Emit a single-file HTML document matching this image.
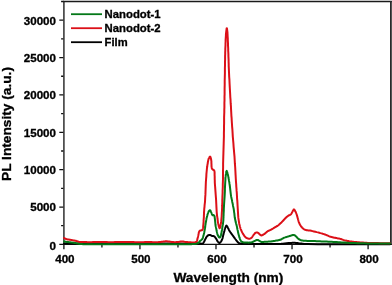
<!DOCTYPE html>
<html><head><meta charset="utf-8"><style>
html,body{margin:0;padding:0;background:#fff;}
body{width:392px;height:285px;overflow:hidden;}
svg{display:block;}
text{font-family:"Liberation Sans",Arial,sans-serif;font-weight:bold;fill:#000;stroke:#000;stroke-width:0.3px;}
</style></head><body>
<svg width="392" height="285" viewBox="0 0 392 285">
<path d="M59.3 244.40H63.9M61.1 225.72H63.9M59.3 207.03H63.9M61.1 188.35H63.9M59.3 169.66H63.9M61.1 150.98H63.9M59.3 132.29H63.9M61.1 113.61H63.9M59.3 94.92H63.9M61.1 76.24H63.9M59.3 57.55H63.9M61.1 38.87H63.9M59.3 20.18H63.9M61.1 1.50H63.9M63.90 244.4V249.2M101.92 244.4V247.4M139.95 244.4V249.2M177.97 244.4V247.4M215.99 244.4V249.2M254.02 244.4V247.4M292.04 244.4V249.2M330.06 244.4V247.4M368.09 244.4V249.2" stroke="#111" stroke-width="1.3" fill="none"/>
<path d="M63.90 0.90V244.40" stroke="#3c3c3c" stroke-width="1.6" fill="none"/>
<path d="M63.20 1.50H391.90" stroke="#1a1a1a" stroke-width="1.3" fill="none"/>
<path d="M390.90 0.90V245.00" stroke="#2a2a2a" stroke-width="1.8" fill="none"/>
<path d="M63.20 244.40H391.80" stroke="#111" stroke-width="1.4" fill="none"/>
<g fill="none" stroke-width="2.0" stroke-linejoin="round" stroke-linecap="round">
<polyline stroke="#000" points="64.0,243.6 65.8,243.6 70.4,243.6 77.1,243.6 84.9,243.6 92.8,243.6 100.0,243.6 107.9,243.6 116.1,243.6 124.5,243.6 133.0,243.6 141.6,243.6 150.0,243.6 159.1,243.6 169.0,243.6 178.9,243.6 187.9,243.7 195.3,243.6 200.0,243.6 200.7,243.6 201.2,243.6 201.6,243.7 202.0,243.7 202.4,243.6 202.7,243.5 203.0,243.3 203.2,243.1 203.4,242.8 203.6,242.4 203.8,242.1 204.0,241.8 204.2,241.5 204.4,241.1 204.6,240.7 204.7,240.4 204.9,240.0 205.1,239.6 205.3,239.2 205.5,238.7 205.8,238.3 206.0,237.8 206.2,237.4 206.5,237.0 206.8,236.6 207.1,236.3 207.4,236.0 207.7,235.7 208.0,235.4 208.3,235.2 208.6,235.1 208.9,235.0 209.1,234.9 209.4,234.9 209.7,234.9 210.0,234.9 210.3,235.0 210.6,235.2 211.0,235.4 211.3,235.6 211.6,235.8 211.9,235.9 212.2,236.0 212.5,236.0 212.7,236.0 213.0,236.0 213.3,236.0 213.5,236.1 213.7,236.2 213.9,236.2 214.1,236.3 214.2,236.4 214.4,236.6 214.6,236.7 214.8,236.9 215.1,237.2 215.3,237.5 215.5,237.9 215.8,238.2 216.0,238.6 216.3,239.1 216.6,239.6 216.9,240.1 217.2,240.7 217.5,241.2 217.8,241.6 218.1,241.9 218.4,242.2 218.6,242.5 218.9,242.8 219.2,242.9 219.5,243.0 219.8,242.9 220.0,242.7 220.3,242.5 220.5,242.2 220.8,241.8 221.0,241.5 221.2,241.1 221.5,240.8 221.7,240.3 221.9,239.9 222.1,239.5 222.3,239.0 222.5,238.4 222.7,237.7 222.8,237.0 223.0,236.3 223.1,235.7 223.3,235.0 223.5,234.4 223.6,233.8 223.7,233.3 223.9,232.7 224.0,232.2 224.2,231.6 224.4,231.0 224.5,230.4 224.7,229.8 224.8,229.1 225.0,228.6 225.2,228.0 225.4,227.5 225.6,227.0 225.8,226.5 226.0,226.0 226.2,225.7 226.4,225.6 226.6,225.7 226.8,225.9 227.0,226.2 227.2,226.5 227.4,226.9 227.6,227.2 227.8,227.6 228.0,228.0 228.3,228.5 228.5,228.9 228.7,229.4 228.9,229.8 229.1,230.2 229.3,230.5 229.5,230.9 229.7,231.3 230.0,231.6 230.2,232.0 230.5,232.4 230.8,232.8 231.1,233.2 231.4,233.7 231.7,234.1 232.0,234.5 232.3,234.9 232.7,235.4 233.0,235.8 233.3,236.3 233.7,236.7 234.0,237.2 234.3,237.7 234.7,238.1 235.0,238.6 235.3,239.0 235.7,239.5 236.0,239.9 236.3,240.3 236.7,240.8 237.0,241.2 237.3,241.6 237.7,242.0 238.0,242.3 238.2,242.5 238.4,242.7 238.7,242.9 238.9,243.0 239.1,243.2 239.4,243.3 239.8,243.4 240.1,243.5 240.5,243.6 241.0,243.6 241.5,243.7 242.0,243.7 243.0,243.8 244.2,243.8 245.6,243.8 247.0,243.9 248.5,243.9 250.0,243.9 252.2,243.9 254.7,244.0 257.2,244.0 259.8,244.0 262.4,244.0 265.0,244.0 267.6,244.0 270.4,244.0 273.1,244.0 275.7,244.0 278.1,244.0 280.0,243.9 280.8,243.9 281.5,243.8 282.2,243.8 282.8,243.7 283.4,243.7 284.0,243.6 284.7,243.5 285.4,243.4 286.0,243.3 286.7,243.3 287.4,243.2 288.0,243.1 288.5,243.1 289.0,243.0 289.5,243.0 290.0,243.0 290.5,242.9 291.0,242.9 291.4,242.9 291.8,242.9 292.2,242.8 292.6,242.8 293.0,242.8 293.4,242.8 293.8,242.8 294.3,242.8 294.7,242.8 295.1,242.8 295.6,242.9 296.0,242.9 296.5,242.9 297.0,243.0 297.5,243.1 298.0,243.2 298.5,243.2 299.0,243.3 299.6,243.4 300.3,243.5 300.9,243.6 301.6,243.6 302.3,243.7 303.0,243.8 303.7,243.9 304.4,243.9 305.1,244.0 305.9,244.0 306.8,244.1 308.0,244.1 317.8,244.2 334.1,244.3 353.1,244.3 371.1,244.2 384.7,244.2 390.0,244.2"/>
<polyline stroke="#dc1018" points="64.0,238.0 64.1,238.1 64.5,238.2 65.0,238.5 65.5,238.8 66.1,239.0 66.6,239.2 67.1,239.3 67.6,239.4 68.0,239.5 68.5,239.6 69.0,239.6 69.5,239.7 69.9,239.8 70.3,239.8 70.7,239.9 71.1,240.0 71.5,240.0 72.0,240.1 72.7,240.2 73.5,240.4 74.3,240.5 75.1,240.7 75.8,240.8 76.5,241.0 76.9,241.1 77.3,241.3 77.7,241.4 78.0,241.6 78.4,241.7 78.8,241.8 79.3,241.9 79.8,242.0 80.4,242.0 80.9,242.0 81.5,242.1 82.0,242.1 82.5,242.1 83.0,242.1 83.5,242.1 83.9,242.1 84.5,242.1 85.0,242.1 85.7,242.1 86.5,242.1 87.3,242.2 88.2,242.2 89.1,242.2 90.0,242.2 91.5,242.2 93.1,242.1 94.8,242.1 96.5,242.1 98.3,242.0 100.0,242.0 101.7,242.0 103.3,242.1 105.0,242.1 106.7,242.1 108.3,242.2 110.0,242.2 111.7,242.2 113.3,242.2 115.0,242.1 116.7,242.1 118.3,242.0 120.0,242.0 121.7,242.0 123.3,242.0 125.0,242.0 126.7,242.1 128.3,242.1 130.0,242.1 131.7,242.1 133.3,242.1 135.0,242.2 136.7,242.2 138.3,242.2 140.0,242.2 141.7,242.2 143.4,242.2 145.1,242.1 146.7,242.1 148.4,242.1 150.0,242.1 151.4,242.1 152.8,242.2 154.2,242.2 155.5,242.2 156.8,242.2 158.0,242.2 158.9,242.1 159.8,242.0 160.6,241.9 161.4,241.8 162.2,241.7 163.0,241.6 163.6,241.5 164.2,241.5 164.8,241.4 165.4,241.3 165.9,241.3 166.5,241.3 167.1,241.3 167.6,241.4 168.2,241.5 168.8,241.5 169.4,241.6 170.0,241.7 170.8,241.8 171.6,241.9 172.5,242.0 173.3,242.1 174.2,242.2 175.0,242.2 175.7,242.2 176.4,242.1 177.1,242.0 177.7,242.0 178.4,241.9 179.0,241.8 179.5,241.7 180.0,241.7 180.5,241.6 181.0,241.5 181.5,241.5 182.0,241.5 182.6,241.5 183.3,241.6 184.0,241.7 184.6,241.8 185.3,241.9 186.0,242.0 186.7,242.1 187.3,242.1 188.0,242.2 188.6,242.2 189.3,242.3 190.0,242.3 190.8,242.3 191.7,242.4 192.7,242.5 193.5,242.5 194.3,242.5 195.0,242.4 195.3,242.3 195.6,242.3 195.9,242.2 196.1,242.1 196.3,242.0 196.5,241.8 196.7,241.5 196.9,241.2 197.0,240.8 197.1,240.4 197.2,239.9 197.3,239.5 197.5,238.9 197.6,238.3 197.8,237.6 198.0,236.9 198.1,236.2 198.3,235.5 198.4,234.8 198.6,234.1 198.7,233.3 198.8,232.6 199.0,232.0 199.2,231.5 199.4,231.3 199.5,231.1 199.7,230.9 199.9,230.7 200.1,230.6 200.3,230.5 200.6,230.4 200.9,230.4 201.2,230.4 201.5,230.3 201.8,230.3 202.0,230.2 202.2,230.1 202.3,229.9 202.5,229.7 202.6,229.5 202.7,229.3 202.8,229.0 202.9,228.5 203.0,227.9 203.1,227.2 203.2,226.5 203.2,225.8 203.3,225.0 203.4,224.0 203.5,222.8 203.6,221.7 203.6,220.4 203.7,219.2 203.8,218.0 203.9,216.7 203.9,215.4 204.0,214.1 204.0,212.8 204.1,211.4 204.2,210.0 204.3,208.4 204.5,206.8 204.6,205.2 204.8,203.5 205.0,201.8 205.1,200.0 205.2,197.5 205.4,194.9 205.5,192.2 205.6,189.4 205.7,186.6 205.8,184.0 205.9,181.5 206.1,179.0 206.3,176.6 206.4,174.2 206.6,172.0 206.8,170.0 206.9,168.8 207.0,167.8 207.2,166.8 207.3,165.9 207.4,165.0 207.6,164.0 207.8,163.0 207.9,162.0 208.1,161.0 208.3,160.1 208.5,159.2 208.8,158.5 209.0,158.1 209.2,157.6 209.4,157.2 209.7,156.9 209.9,156.7 210.1,156.6 210.3,156.8 210.5,157.2 210.7,157.8 210.9,158.5 211.1,159.3 211.2,160.0 211.4,161.3 211.4,162.9 211.5,164.5 211.5,166.2 211.7,167.5 211.9,168.5 212.0,168.7 212.2,168.9 212.3,169.1 212.5,169.2 212.6,169.4 212.8,169.5 213.0,169.7 213.3,169.8 213.5,169.9 213.8,170.1 214.0,170.3 214.2,170.5 214.4,171.0 214.5,171.7 214.6,172.4 214.6,173.3 214.6,174.1 214.6,175.0 214.7,176.3 214.7,177.7 214.7,179.1 214.8,180.7 214.8,182.3 214.9,184.0 215.1,186.4 215.3,189.1 215.5,191.9 215.7,194.7 215.9,197.4 216.1,200.0 216.2,202.1 216.3,204.3 216.4,206.4 216.5,208.4 216.6,210.3 216.7,212.0 216.8,213.1 216.9,214.2 217.0,215.1 217.1,216.1 217.3,217.0 217.4,218.0 217.5,219.0 217.7,220.0 217.8,221.1 217.9,222.1 218.1,223.1 218.3,224.0 218.5,224.8 218.7,225.8 218.9,226.7 219.2,227.5 219.4,228.0 219.6,228.2 219.8,228.0 220.0,227.6 220.2,226.9 220.4,226.1 220.5,225.3 220.7,224.5 220.9,223.5 221.0,222.5 221.2,221.4 221.3,220.2 221.4,219.1 221.5,218.0 221.6,217.0 221.7,216.0 221.7,215.0 221.8,214.1 221.8,213.0 221.9,212.0 222.0,210.7 222.0,209.4 222.1,208.1 222.1,206.7 222.2,205.4 222.2,204.0 222.3,202.5 222.3,201.1 222.3,199.6 222.4,198.1 222.4,196.6 222.5,195.0 222.6,193.0 222.6,191.0 222.7,188.9 222.8,186.7 222.8,184.4 222.9,182.0 223.0,178.7 223.0,175.1 223.0,171.3 223.1,167.5 223.1,163.7 223.2,160.0 223.3,156.6 223.4,153.3 223.5,149.9 223.6,146.6 223.7,143.3 223.8,140.0 223.9,136.6 223.9,133.2 224.0,129.8 224.0,126.5 224.1,123.2 224.1,120.0 224.1,117.4 224.2,114.8 224.3,112.3 224.3,109.8 224.4,107.4 224.4,105.0 224.4,102.8 224.5,100.7 224.5,98.7 224.5,96.6 224.6,94.4 224.6,92.0 224.6,88.6 224.7,84.8 224.7,80.9 224.8,77.1 224.9,73.4 224.9,70.0 224.9,67.8 225.0,65.7 225.0,63.7 225.0,61.8 225.1,59.9 225.1,58.0 225.1,56.1 225.2,54.3 225.2,52.4 225.3,50.6 225.3,48.8 225.4,47.0 225.5,45.3 225.5,43.5 225.6,41.8 225.6,40.1 225.7,38.5 225.8,37.0 225.9,35.9 225.9,34.8 226.0,33.8 226.1,32.8 226.2,31.9 226.3,31.0 226.4,30.4 226.5,29.8 226.5,29.2 226.6,28.7 226.7,28.3 226.8,28.2 226.9,28.3 227.0,28.7 227.1,29.2 227.1,29.8 227.2,30.4 227.3,31.0 227.4,31.9 227.5,32.8 227.5,33.8 227.6,34.8 227.6,35.9 227.7,37.0 227.8,38.5 227.8,40.1 227.9,41.8 228.0,43.5 228.0,45.3 228.1,47.0 228.2,48.8 228.2,50.6 228.3,52.4 228.4,54.3 228.4,56.1 228.5,58.0 228.6,60.0 228.6,61.9 228.7,63.9 228.7,65.9 228.8,67.9 228.9,70.0 229.0,72.3 229.1,74.6 229.2,77.0 229.4,79.4 229.5,81.8 229.6,84.0 229.7,85.9 229.8,87.7 229.9,89.5 230.0,91.3 230.1,93.1 230.2,95.0 230.3,97.1 230.5,99.3 230.6,101.5 230.7,103.7 230.9,105.9 231.0,108.0 231.1,110.0 231.2,111.9 231.3,113.8 231.4,115.8 231.6,117.8 231.7,120.0 231.9,123.0 232.1,126.3 232.4,129.7 232.6,133.1 232.8,136.6 233.1,140.0 233.4,143.3 233.6,146.6 233.9,149.9 234.2,153.3 234.5,156.6 234.7,160.0 234.9,163.7 235.2,167.5 235.4,171.3 235.6,175.1 235.8,178.7 236.0,182.0 236.2,184.4 236.3,186.6 236.5,188.8 236.6,190.9 236.8,192.9 236.9,195.0 237.0,196.9 237.1,198.8 237.3,200.6 237.4,202.4 237.5,204.2 237.6,206.0 237.7,207.7 237.8,209.4 237.9,211.1 238.0,212.8 238.1,214.4 238.2,216.0 238.3,217.4 238.5,218.8 238.7,220.2 238.9,221.5 239.1,222.8 239.3,224.0 239.5,224.8 239.7,225.6 239.9,226.4 240.1,227.1 240.3,227.8 240.5,228.5 240.7,229.1 241.0,229.7 241.2,230.3 241.5,230.9 241.7,231.5 242.0,232.0 242.2,232.5 242.5,232.9 242.7,233.3 243.0,233.8 243.2,234.2 243.5,234.6 243.8,235.0 244.0,235.4 244.3,235.8 244.5,236.1 244.8,236.5 245.1,236.8 245.4,237.1 245.7,237.3 246.0,237.6 246.3,237.8 246.6,238.0 247.0,238.2 247.4,238.4 247.8,238.5 248.3,238.6 248.7,238.7 249.2,238.7 249.6,238.7 249.9,238.6 250.3,238.5 250.6,238.4 250.9,238.2 251.2,238.0 251.5,237.8 251.9,237.4 252.2,237.0 252.5,236.5 252.8,236.0 253.2,235.5 253.5,235.0 253.8,234.6 254.2,234.2 254.5,233.8 254.8,233.4 255.2,233.1 255.5,232.8 255.7,232.7 256.0,232.6 256.3,232.5 256.5,232.4 256.8,232.4 257.0,232.4 257.3,232.5 257.5,232.6 257.8,232.7 258.0,232.9 258.3,233.0 258.5,233.2 258.8,233.4 259.0,233.6 259.2,233.9 259.5,234.2 259.7,234.4 260.0,234.6 260.2,234.8 260.5,235.0 260.7,235.1 261.0,235.3 261.2,235.4 261.5,235.4 261.7,235.4 262.0,235.3 262.2,235.2 262.5,235.1 262.7,234.9 263.0,234.8 263.3,234.6 263.6,234.4 264.0,234.2 264.3,234.0 264.7,233.8 265.0,233.5 265.4,233.1 265.9,232.7 266.4,232.3 266.9,231.9 267.3,231.5 267.8,231.2 268.2,231.0 268.5,230.8 268.9,230.7 269.2,230.5 269.6,230.4 270.0,230.2 270.5,229.9 271.0,229.7 271.5,229.4 272.0,229.1 272.5,228.8 273.0,228.5 273.4,228.2 273.9,228.0 274.3,227.7 274.7,227.5 275.1,227.2 275.5,227.0 275.9,226.8 276.3,226.5 276.8,226.3 277.2,226.0 277.6,225.8 278.0,225.5 278.4,225.2 278.9,224.8 279.3,224.4 279.7,224.0 280.2,223.6 280.6,223.2 281.1,222.7 281.7,222.2 282.2,221.6 282.8,221.0 283.3,220.5 283.8,220.0 284.1,219.6 284.4,219.3 284.7,219.0 285.0,218.6 285.3,218.3 285.6,218.0 285.9,217.7 286.2,217.4 286.6,217.1 286.9,216.8 287.2,216.5 287.5,216.3 287.7,216.1 287.9,216.0 288.1,215.8 288.3,215.7 288.6,215.5 288.8,215.4 289.1,215.3 289.4,215.1 289.8,215.0 290.1,214.9 290.4,214.7 290.7,214.5 291.0,214.2 291.3,213.8 291.5,213.4 291.8,212.9 292.0,212.4 292.3,212.0 292.6,211.5 292.8,210.9 293.1,210.4 293.4,209.9 293.6,209.5 293.9,209.4 294.1,209.5 294.3,209.7 294.6,210.0 294.8,210.4 295.0,210.8 295.2,211.2 295.4,211.6 295.7,212.1 295.9,212.5 296.1,213.0 296.3,213.5 296.5,214.0 296.7,214.6 296.9,215.2 297.1,215.8 297.2,216.4 297.4,217.0 297.6,217.7 297.8,218.5 298.0,219.3 298.3,220.1 298.5,221.0 298.7,221.8 299.0,222.5 299.2,223.1 299.5,223.6 299.7,224.1 299.9,224.6 300.2,225.0 300.5,225.5 300.8,225.9 301.1,226.4 301.4,226.8 301.8,227.2 302.1,227.6 302.5,228.0 302.9,228.4 303.3,228.7 303.7,229.0 304.2,229.3 304.7,229.6 305.2,229.8 305.9,230.0 306.6,230.2 307.4,230.3 308.3,230.4 309.1,230.5 310.0,230.6 311.2,230.8 312.5,231.1 313.9,231.4 315.3,231.7 316.7,232.1 318.0,232.4 319.2,232.7 320.4,233.1 321.6,233.4 322.7,233.8 323.9,234.1 325.0,234.5 326.0,234.9 327.0,235.3 327.9,235.7 328.8,236.1 329.8,236.5 330.7,236.8 331.6,237.1 332.5,237.3 333.4,237.5 334.3,237.7 335.2,237.8 336.0,238.0 336.7,238.1 337.4,238.3 338.0,238.4 338.7,238.5 339.3,238.6 340.0,238.8 340.8,239.0 341.6,239.3 342.5,239.6 343.3,239.9 344.2,240.2 345.0,240.4 345.8,240.6 346.7,240.8 347.5,241.0 348.3,241.1 349.2,241.3 350.0,241.4 350.8,241.5 351.7,241.6 352.5,241.7 353.3,241.8 354.2,241.9 355.0,242.0 355.8,242.1 356.6,242.1 357.5,242.2 358.3,242.3 359.1,242.3 360.0,242.4 361.0,242.5 362.1,242.5 363.1,242.6 364.2,242.7 365.4,242.7 366.5,242.8 367.8,242.9 369.2,242.9 370.5,243.0 371.9,243.0 373.4,243.1 375.0,243.1 377.6,243.1 380.8,243.2 384.1,243.2 387.1,243.2 389.2,243.2 390.0,243.2"/>
<polyline stroke="#047818" points="64.0,241.4 64.1,241.4 64.5,241.5 65.1,241.6 65.7,241.8 66.4,241.9 67.0,242.0 67.6,242.1 68.3,242.1 69.0,242.2 69.6,242.3 70.3,242.3 71.0,242.4 71.7,242.5 72.3,242.6 73.0,242.7 73.7,242.8 74.3,242.9 75.0,243.0 75.7,243.1 76.3,243.3 77.0,243.4 77.6,243.6 78.3,243.7 79.0,243.8 79.8,243.9 80.5,244.0 81.3,244.0 82.1,244.1 83.0,244.2 84.0,244.2 86.0,244.3 88.3,244.3 90.9,244.3 93.7,244.3 96.7,244.3 100.0,244.3 106.8,244.3 114.8,244.3 123.6,244.3 132.7,244.3 141.7,244.3 150.0,244.3 157.3,244.3 165.0,244.3 172.5,244.3 179.5,244.3 185.4,244.3 190.0,244.2 191.3,244.2 192.5,244.1 193.5,244.1 194.4,244.0 195.2,243.9 196.0,243.8 196.5,243.7 197.0,243.5 197.4,243.4 197.8,243.2 198.2,243.0 198.5,242.8 198.8,242.6 199.0,242.3 199.2,242.0 199.4,241.7 199.6,241.5 199.8,241.2 200.1,241.0 200.4,240.7 200.7,240.5 201.0,240.3 201.2,240.0 201.5,239.8 201.7,239.6 201.9,239.4 202.1,239.2 202.3,239.0 202.5,238.7 202.6,238.5 202.7,238.2 202.8,237.9 202.9,237.6 203.0,237.2 203.1,236.9 203.2,236.5 203.3,236.0 203.5,235.4 203.7,234.9 203.8,234.3 204.0,233.6 204.1,233.0 204.3,232.2 204.4,231.4 204.6,230.6 204.7,229.7 204.9,228.9 205.0,228.0 205.2,227.0 205.3,226.0 205.4,225.0 205.6,224.0 205.7,223.0 205.9,222.0 206.1,221.1 206.2,220.3 206.4,219.4 206.5,218.6 206.7,217.8 206.9,217.0 207.1,216.4 207.2,215.8 207.4,215.2 207.5,214.6 207.7,214.0 207.9,213.5 208.1,213.0 208.2,212.6 208.4,212.1 208.6,211.7 208.8,211.3 209.0,211.0 209.2,210.8 209.4,210.6 209.5,210.4 209.7,210.3 209.9,210.2 210.1,210.2 210.3,210.4 210.5,210.7 210.7,211.1 210.9,211.6 211.1,212.1 211.3,212.5 211.5,213.0 211.7,213.5 211.9,214.1 212.1,214.6 212.4,215.0 212.6,215.2 212.7,215.2 212.9,215.2 213.1,215.1 213.2,215.0 213.4,215.0 213.5,215.0 213.6,215.1 213.8,215.2 213.9,215.3 214.1,215.4 214.2,215.6 214.3,215.8 214.5,216.2 214.6,216.7 214.7,217.2 214.7,217.8 214.8,218.4 214.9,219.0 215.0,219.9 215.1,220.9 215.2,222.0 215.3,223.0 215.4,224.1 215.5,225.0 215.6,225.7 215.7,226.4 215.9,227.1 216.0,227.7 216.2,228.4 216.3,229.0 216.4,229.6 216.5,230.2 216.6,230.8 216.7,231.3 216.9,231.9 217.0,232.5 217.2,233.1 217.3,233.7 217.5,234.4 217.7,235.0 218.0,235.5 218.2,236.0 218.4,236.4 218.6,236.7 218.9,237.1 219.1,237.4 219.4,237.5 219.6,237.6 219.8,237.5 220.1,237.2 220.3,236.9 220.5,236.4 220.7,236.0 220.9,235.5 221.1,234.9 221.3,234.1 221.4,233.4 221.5,232.6 221.7,231.8 221.8,231.0 221.9,230.2 222.1,229.4 222.2,228.5 222.3,227.7 222.5,226.8 222.6,226.0 222.7,225.2 222.9,224.4 223.0,223.6 223.1,222.7 223.2,221.9 223.3,221.0 223.4,219.9 223.4,218.8 223.5,217.7 223.5,216.5 223.6,215.3 223.6,214.0 223.7,212.4 223.8,210.8 223.8,209.1 223.9,207.4 224.0,205.7 224.1,204.0 224.2,202.5 224.3,201.0 224.4,199.6 224.5,198.1 224.6,196.6 224.7,195.0 224.8,193.1 224.9,191.0 224.9,189.0 225.0,186.9 225.1,184.9 225.2,183.0 225.3,181.5 225.4,180.1 225.4,178.7 225.5,177.4 225.7,176.2 225.8,175.0 225.9,174.1 226.1,173.2 226.2,172.4 226.4,171.6 226.5,171.1 226.7,170.9 226.8,171.0 227.0,171.3 227.1,171.8 227.3,172.4 227.5,172.9 227.6,173.5 227.8,174.3 228.0,175.2 228.2,176.1 228.4,177.1 228.5,178.0 228.7,179.0 228.9,180.0 229.0,180.9 229.2,181.9 229.4,182.9 229.5,183.9 229.7,185.0 229.9,186.5 230.1,188.2 230.3,189.9 230.5,191.7 230.7,193.4 230.9,195.0 231.1,196.4 231.4,197.7 231.7,199.1 232.0,200.4 232.2,201.7 232.5,203.0 232.8,204.3 233.0,205.7 233.3,207.1 233.6,208.4 233.8,209.7 234.0,211.0 234.1,212.1 234.3,213.1 234.4,214.1 234.5,215.1 234.6,216.1 234.7,217.0 234.8,217.8 235.0,218.6 235.1,219.3 235.3,220.1 235.4,220.8 235.6,221.5 235.7,222.1 235.9,222.7 236.0,223.2 236.2,223.8 236.3,224.4 236.5,225.0 236.7,225.8 236.9,226.6 237.1,227.5 237.2,228.3 237.4,229.2 237.6,230.0 237.8,230.7 237.9,231.4 238.0,232.1 238.2,232.7 238.3,233.4 238.5,234.0 238.6,234.6 238.8,235.1 238.9,235.7 239.1,236.2 239.2,236.8 239.4,237.3 239.5,237.7 239.7,238.2 239.8,238.6 240.0,239.0 240.1,239.4 240.3,239.8 240.5,240.1 240.6,240.4 240.8,240.7 241.0,241.0 241.2,241.3 241.4,241.5 241.6,241.7 241.9,241.8 242.1,241.9 242.4,242.0 242.7,242.1 243.0,242.2 243.4,242.3 243.9,242.4 244.4,242.4 244.9,242.4 245.5,242.5 246.0,242.5 246.6,242.5 247.3,242.6 248.0,242.6 248.7,242.7 249.4,242.6 250.0,242.6 250.5,242.5 251.1,242.4 251.6,242.3 252.1,242.1 252.5,242.0 253.0,241.8 253.4,241.6 253.8,241.4 254.2,241.2 254.6,241.0 254.9,240.8 255.3,240.6 255.6,240.4 256.0,240.3 256.3,240.1 256.6,240.0 257.0,239.9 257.3,239.9 257.6,239.9 257.9,240.0 258.1,240.1 258.4,240.3 258.7,240.4 259.0,240.6 259.4,240.8 259.7,241.0 260.1,241.3 260.5,241.5 260.9,241.8 261.3,241.9 261.8,242.0 262.4,242.0 263.0,242.0 263.7,241.9 264.3,241.8 265.0,241.8 265.8,241.8 266.7,241.7 267.6,241.7 268.5,241.6 269.4,241.6 270.3,241.5 271.1,241.4 271.9,241.3 272.7,241.2 273.5,241.0 274.3,240.9 275.0,240.8 275.5,240.7 276.1,240.6 276.5,240.6 277.0,240.5 277.5,240.4 278.0,240.3 278.5,240.2 279.0,240.1 279.5,240.0 280.0,239.8 280.5,239.7 281.0,239.5 281.5,239.3 281.9,239.0 282.4,238.7 282.8,238.4 283.3,238.2 283.8,237.9 284.4,237.6 285.1,237.4 285.7,237.2 286.4,237.0 287.1,236.8 287.7,236.6 288.2,236.4 288.8,236.3 289.3,236.1 289.8,236.0 290.2,235.8 290.7,235.7 291.0,235.6 291.3,235.5 291.6,235.4 291.9,235.3 292.2,235.2 292.5,235.1 292.7,235.0 292.9,235.0 293.2,234.9 293.4,234.9 293.6,234.9 293.8,234.9 294.0,235.0 294.3,235.0 294.5,235.2 294.8,235.3 295.0,235.4 295.2,235.6 295.4,235.8 295.6,236.0 295.8,236.2 296.0,236.4 296.2,236.6 296.4,236.8 296.6,237.0 296.8,237.2 297.0,237.5 297.2,237.7 297.4,237.9 297.6,238.1 297.8,238.3 298.1,238.5 298.3,238.7 298.5,238.9 298.8,239.1 299.1,239.3 299.5,239.5 300.0,239.8 300.5,240.0 301.1,240.2 301.6,240.4 302.2,240.5 302.8,240.6 303.4,240.7 304.0,240.7 304.6,240.7 305.3,240.8 306.0,240.8 307.3,240.9 308.7,240.9 310.2,241.0 311.8,241.0 313.4,241.0 315.0,241.1 316.6,241.2 318.3,241.2 320.0,241.3 321.6,241.4 323.3,241.4 325.0,241.5 326.7,241.6 328.3,241.7 330.0,241.7 331.7,241.8 333.3,241.9 335.0,242.0 336.7,242.1 338.3,242.2 340.0,242.3 341.7,242.4 343.3,242.5 345.0,242.6 346.6,242.7 348.3,242.8 349.9,242.9 351.5,243.0 353.2,243.0 355.0,243.1 357.3,243.2 359.7,243.2 362.2,243.3 364.7,243.3 367.3,243.4 370.0,243.4 373.6,243.4 377.9,243.5 382.3,243.5 386.2,243.5 388.9,243.5 390.0,243.5"/>
</g>
<g stroke-width="1.8"><line x1="71" y1="14.2" x2="102" y2="14.2" stroke="#047818"/><line x1="71" y1="28.2" x2="102" y2="28.2" stroke="#dc1018"/><line x1="71" y1="42.2" x2="102" y2="42.2" stroke="#000"/></g>
<text x="104.6" y="17.9" font-size="10.6" textLength="56.0" lengthAdjust="spacingAndGlyphs">Nanodot-1</text>
<text x="104.6" y="31.9" font-size="10.6" textLength="56.0" lengthAdjust="spacingAndGlyphs">Nanodot-2</text>
<text x="104.6" y="45.9" font-size="10.6" textLength="23.0" lengthAdjust="spacingAndGlyphs">Film</text>
<text x="56.0" y="250.1" font-size="10.3" text-anchor="end" textLength="6.5" lengthAdjust="spacingAndGlyphs">0</text>
<text x="56.0" y="211.3" font-size="10.3" text-anchor="end" textLength="25.8" lengthAdjust="spacingAndGlyphs">5000</text>
<text x="56.0" y="174.0" font-size="10.3" text-anchor="end" textLength="32.2" lengthAdjust="spacingAndGlyphs">10000</text>
<text x="56.0" y="136.6" font-size="10.3" text-anchor="end" textLength="32.2" lengthAdjust="spacingAndGlyphs">15000</text>
<text x="56.0" y="99.2" font-size="10.3" text-anchor="end" textLength="32.2" lengthAdjust="spacingAndGlyphs">20000</text>
<text x="56.0" y="61.9" font-size="10.3" text-anchor="end" textLength="32.2" lengthAdjust="spacingAndGlyphs">25000</text>
<text x="56.0" y="24.5" font-size="10.3" text-anchor="end" textLength="32.2" lengthAdjust="spacingAndGlyphs">30000</text>
<text x="64.9" y="262.8" font-size="10.2" text-anchor="middle" textLength="19.4" lengthAdjust="spacingAndGlyphs">400</text>
<text x="140.9" y="262.8" font-size="10.2" text-anchor="middle" textLength="19.4" lengthAdjust="spacingAndGlyphs">500</text>
<text x="217.0" y="262.8" font-size="10.2" text-anchor="middle" textLength="19.4" lengthAdjust="spacingAndGlyphs">600</text>
<text x="293.0" y="262.8" font-size="10.2" text-anchor="middle" textLength="19.4" lengthAdjust="spacingAndGlyphs">700</text>
<text x="369.1" y="262.8" font-size="10.2" text-anchor="middle" textLength="19.4" lengthAdjust="spacingAndGlyphs">800</text>
<text x="228.4" y="282.0" font-size="12.8" text-anchor="middle" textLength="110.0" lengthAdjust="spacingAndGlyphs">Wavelength (nm)</text>
<text transform="translate(11.4 124) rotate(-90)" font-size="12.8" text-anchor="middle" textLength="114.0" lengthAdjust="spacingAndGlyphs">PL Intensity (a.u.)</text>
</svg>
</body></html>
